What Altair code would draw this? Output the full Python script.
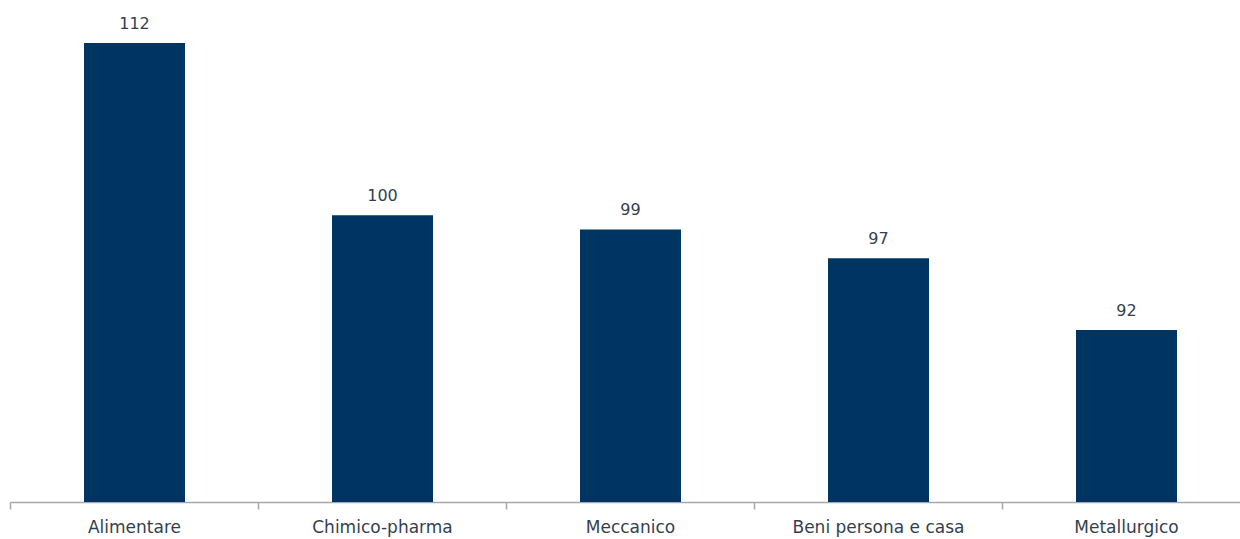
import altair as alt
import pandas as pd

categories = ["Alimentare", "Chimico-pharma", "Meccanico", "Beni persona e casa", "Metallurgico"]
values = [112, 100, 99, 97, 92]

df = pd.DataFrame({"cat": categories, "val": values})

BAR = "#003463"
TEXT = "#333F50"
AXIS = "#A6A6B0"
FONT = "DejaVu Sans"

x = alt.X("cat:N", sort=categories, title=None,
          scale=alt.Scale(range=[0, 1240], paddingInner=0, paddingOuter=0),
          axis=alt.Axis(labelAngle=0, tickBand="extent", domainColor=AXIS, tickColor=AXIS,
                        tickSize=7, tickWidth=1.5, domainWidth=1.5, labelFont=FONT, labelFontSize=17,
                        labelColor=TEXT, labelPadding=10, grid=False))
y = alt.Y("val:Q", scale=alt.Scale(domain=[80, 115], zero=False, nice=False), axis=None)

bars = alt.Chart(df).mark_bar(color=BAR, width=101, xOffset=0.5).encode(x=x, y=y, y2=alt.datum(80))
labels = alt.Chart(df).mark_text(font=FONT, fontSize=16, color=TEXT, baseline="bottom", dy=-11,
                                 xOffset=0.5).encode(x=x, y=y, text="val:Q")

chart = (bars + labels).properties(
    width=1230, height=502,
    autosize=alt.AutoSizeParams(type="none"),
    padding={"left": 10, "right": 0, "top": 0, "bottom": 37},
).configure(background="white").configure_view(stroke=None, strokeWidth=0)

chart.save("out.html", embed_options={"renderer": "svg", "actions": False})
